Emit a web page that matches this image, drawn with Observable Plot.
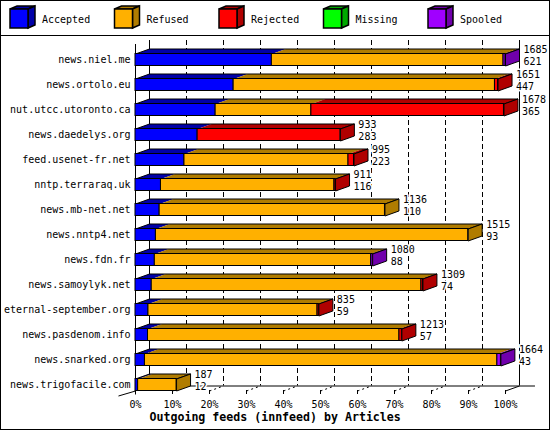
<!DOCTYPE html>
<html>
<head>
<meta charset="utf-8">
<script src="https://cdn.jsdelivr.net/npm/d3@7"></script>
<script src="https://cdn.jsdelivr.net/npm/@observablehq/plot@0.6"></script>
<style>
  html, body { margin: 0; padding: 0; background: #fff; }
  #wrap { width: 550px; height: 430px; box-sizing: border-box; border: 1px solid #000; background: #fff; overflow: hidden; }
  #legend { height: 34px; border-bottom: 1px solid #000; }
  #legend svg, #chart svg { display: block; }
</style>
</head>
<body>
<div id="wrap">
  <div id="legend"></div>
  <div id="chart"></div>
</div>
<script>
// ---- data ----
const categories = [
  "news.niel.me", "news.ortolo.eu", "nut.utcc.utoronto.ca", "news.daedelys.org",
  "feed.usenet-fr.net", "nntp.terraraq.uk", "news.mb-net.net", "news.nntp4.net",
  "news.fdn.fr", "news.samoylyk.net", "eternal-september.org", "news.pasdenom.info",
  "news.snarked.org", "news.trigofacile.com"
];
const totals   = [1685, 1651, 1678, 933, 995, 911, 1136, 1515, 1080, 1309, 835, 1213, 1664, 187];
const accepted = [621, 447, 365, 283, 223, 116, 110, 93, 88, 74, 59, 57, 43, 12];
const refused  = [1055, 1190, 436, 0, 747, 790, 1026, 1422, 985, 1228, 770, 1145, 1605, 175];
const rejected = [0, 14, 877, 650, 25, 5, 0, 0, 0, 7, 6, 11, 0, 0];
const missing  = [0, 0, 0, 0, 0, 0, 0, 0, 0, 0, 0, 0, 0, 0];
const spooled  = [9, 0, 0, 0, 0, 0, 0, 0, 7, 0, 0, 0, 16, 0];
const seriesNames = ["Accepted", "Refused", "Rejected", "Missing", "Spooled"];
const xTicks = [0, 10, 20, 30, 40, 50, 60, 70, 80, 90, 100];
const axisTitle = "Outgoing feeds (innfeed) by Articles";

// ---- styles ----
const frontColors = ["#0000ff", "#ffb000", "#ff0000", "#00ff00", "#a000ff"];
const sideColors  = ["#0000a8", "#b07c00", "#b00000", "#00a800", "#7000ac"];
const FONT = "'DejaVu Sans Mono', 'Liberation Mono', monospace";

// ---- legend ----
(function () {
  const svg = d3.select("#legend").append("svg").attr("width", 548).attr("height", 34);
  seriesNames.forEach((name, k) => {
    const x0 = 9 + k * 104.5;
    const g = svg.append("g").attr("stroke", "#000").attr("stroke-width", 1.5);
    g.append("polygon").attr("points", `${x0},8 ${x0+18},8 ${x0+25},5 ${x0+7},5`).attr("fill", sideColors[k]);
    g.append("polygon").attr("points", `${x0+18},8 ${x0+25},5 ${x0+25},24 ${x0+18},27`).attr("fill", sideColors[k]);
    g.append("rect").attr("x", x0).attr("y", 8).attr("width", 18).attr("height", 19).attr("fill", frontColors[k]);
    svg.append("text").attr("x", x0 + 32).attr("y", 19).attr("dominant-baseline", "middle")
      .attr("font-family", FONT).attr("font-size", 10).attr("fill", "#000").text(name);
  });
})();

// ---- geometry (scale units) ----
const series = [accepted, refused, rejected, missing, spooled];
const maxTotal = d3.max(totals);
const pct = v => v / maxTotal * 100;
const D = 14 * 100 / 370;   // depth in x (percent units)
const DY = 0.2;             // depth in y (row units)
const H = 0.24;             // half bar height (row units)
const yTop = -0.78, yFloor = 13 + H - DY;

const fronts = [], tops = [], sides = [], outlines = [], labels = [];
categories.forEach((cat, i) => {
  let a = 0, last = -1;
  series.forEach((vals, s) => {
    const v = vals[i];
    if (!v) return;
    const b = a + pct(v);
    fronts.push({x1: a, x2: b, y1: i - H, y2: i + H, fill: frontColors[s]});
    const id = `t${i}-${s}`;
    [[a, i - H], [b, i - H], [b + D, i - H - DY], [a + D, i - H - DY], [a, i - H]]
      .forEach(([x, y]) => tops.push({id, s, x, y}));
    last = s; a = b;
  });
  const B = a;
  const sid = `s${i}`;
  [[B, i - H], [B + D, i - H - DY], [B + D, i + H - DY], [B, i + H], [B, i - H]]
    .forEach(([x, y]) => sides.push({id: sid, s: last, x, y}));
  const oid = `o${i}`;
  [[0, i - H], [B, i - H], [B + D, i - H - DY], [D, i - H - DY], [0, i - H]]
    .forEach(([x, y]) => outlines.push({id: oid, x, y}));
  labels.push({x: B, y: i, total: totals[i], acc: accepted[i]});
});

const inner = xTicks.slice(1, -1);
const marks = [
  // back wall grid
  Plot.ruleX(inner, {x: d => d + D, y1: yTop, y2: yFloor, stroke: "#000", strokeWidth: 1, strokeDasharray: "5,3"}),
  Plot.ruleX([D, 100 + D], {x: d => d, y1: yTop, y2: yFloor, stroke: "#000", strokeWidth: 1}),
  Plot.ruleY([yFloor], {x1: D, x2: 108.1, y: d => d, stroke: "#000", strokeWidth: 1}),
  Plot.ruleX([0], {x: d => d, y1: -0.62, y2: 13.4, stroke: "#000", strokeWidth: 1}),
  Plot.link(inner, {x1: d => d, y1: 13 + H, x2: d => d + D, y2: yFloor, stroke: "#000", strokeWidth: 1, strokeDasharray: "2,3"}),
  Plot.link([0], {x1: -4.6, y1: 13.44, x2: 0, y2: 13 + H, stroke: "#000", strokeWidth: 1}),
  Plot.link([100], {x1: 100, y1: 13 + H, x2: 100 + D, y2: yFloor, stroke: "#000", strokeWidth: 1}),
];
// top faces per colour
seriesNames.forEach((n, s) => {
  marks.push(Plot.line(tops.filter(d => d.s === s), {x: "x", y: "y", z: "id", fill: sideColors[s], stroke: "none", curve: "linear"}));
});
marks.push(Plot.line(outlines, {x: "x", y: "y", z: "id", fill: "none", stroke: "#000", strokeWidth: 1, curve: "linear"}));
seriesNames.forEach((n, s) => {
  marks.push(Plot.line(sides.filter(d => d.s === s), {x: "x", y: "y", z: "id", fill: sideColors[s], stroke: "#000", strokeWidth: 1, curve: "linear"}));
});
marks.push(Plot.rect(fronts, {x1: "x1", x2: "x2", y1: "y1", y2: "y2", fill: "fill", stroke: "#000", strokeWidth: 1}));
// value labels
marks.push(Plot.text(labels, {x: "x", y: "y", text: d => String(d.total), dx: 18, dy: -10, textAnchor: "start", lineAnchor: "middle", fill: "#000", stroke: "#fff", strokeWidth: 3, fontSize: 10}));
marks.push(Plot.text(labels, {x: "x", y: "y", text: d => String(d.acc), dx: 18, dy: 2, textAnchor: "start", lineAnchor: "middle", fill: "#000", stroke: "#fff", strokeWidth: 3, fontSize: 10}));
// axes
marks.push(Plot.axisY({ticks: d3.range(categories.length), tickFormat: i => categories[i], tickSize: 0, tickPadding: 5, label: null, fontSize: 10}));
marks.push(Plot.axisX({ticks: xTicks, tickFormat: d => d + "%", tickSize: 4, tickPadding: 6, label: null, fontSize: 10}));
marks.push(Plot.text([axisTitle], {frameAnchor: "bottom-left", text: d => d, dx: 14, dy: 27, textAnchor: "start", lineAnchor: "middle", fontWeight: "bold", fontSize: 11.6, fill: "#000"}));

const chart = Plot.plot({
  width: 548,
  height: 392,
  marginLeft: 134,
  marginRight: 10,
  marginTop: 0,
  marginBottom: 38,
  style: {fontFamily: FONT, fontSize: "10px", background: "#fff", color: "#000", overflow: "visible"},
  x: {domain: [0, 100], range: [134, 504]},
  y: {domain: [0, 13], range: [23.5, 348.5]},
  color: {type: "identity"},
  marks
});
document.getElementById("chart").appendChild(chart);
</script>
</body>
</html>
